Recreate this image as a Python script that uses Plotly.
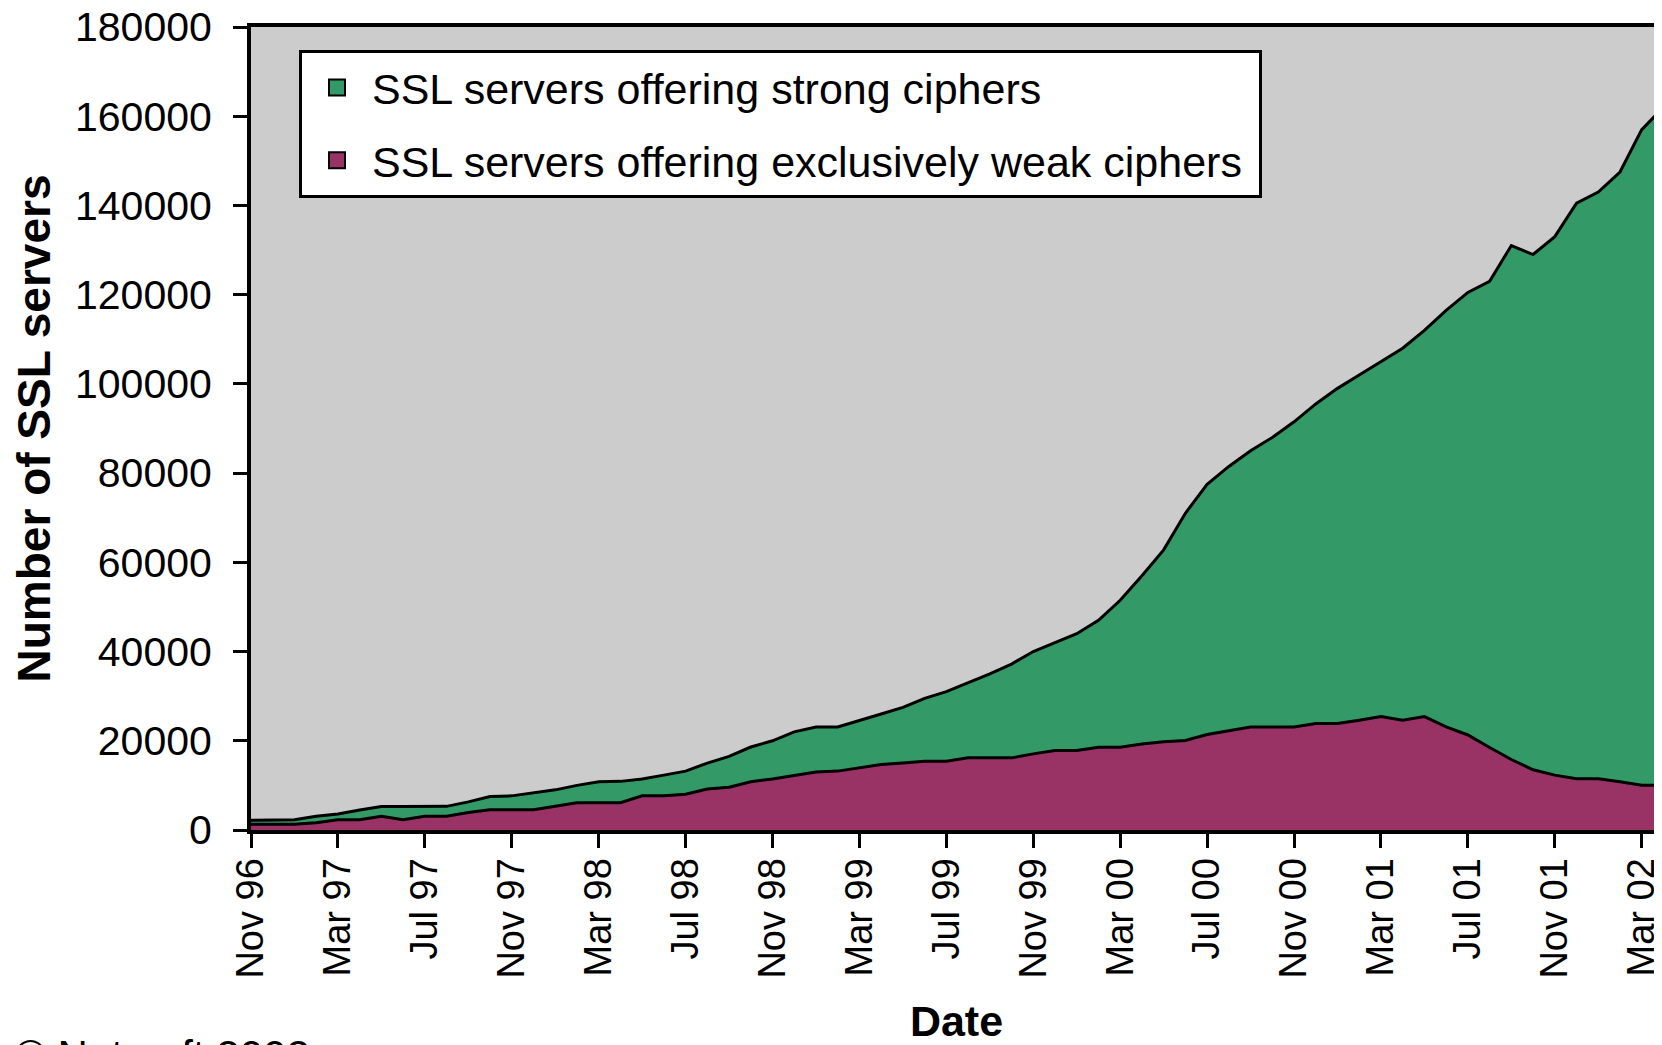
import pandas as pd
import plotly.graph_objects as go

# Monthly survey dates, Nov 96 .. Apr 02
months = list(pd.date_range("1996-11-01", periods=66, freq="MS").strftime("%b %y"))

tick_labels = ["Nov 96", "Mar 97", "Jul 97", "Nov 97", "Mar 98", "Jul 98", "Nov 98",
               "Mar 99", "Jul 99", "Nov 99", "Mar 00", "Jul 00", "Nov 00", "Mar 01",
               "Jul 01", "Nov 01", "Mar 02"]

weak = [1300, 1300, 1300, 1600, 2280, 2280, 3100, 2280, 3100, 3100,
        3920, 4520, 4520, 4520, 5330, 6100, 6100, 6100, 7650, 7650,
        8000, 9200, 9600, 10800, 11450, 12200, 13000, 13200, 13930, 14670,
        15000, 15410, 15410, 16170, 16170, 16170, 17060, 17810, 17810, 18550,
        18550, 19300, 19800, 20050, 21400, 22290, 23100, 23100, 23100, 23850,
        23850, 24600, 25420, 24600, 25420, 23100, 21300, 18500, 15800, 13500,
        12300, 11470, 11470, 10800, 10040, 10040]

strong = [900, 900, 1000, 1500, 1320, 2220, 2160, 2980, 2160, 2200,
          2380, 2980, 3130, 3880, 3670, 3900, 4700, 4800, 3800, 4650,
          5200, 5800, 6900, 7800, 8550, 9800, 10100, 9900, 10570, 11330,
          12500, 14090, 15590, 16830, 18830, 21030, 22940, 24190, 26190, 28450,
          32950, 37700, 43000, 50950, 56100, 59210, 61900, 64900, 68400, 71650,
          75150, 77400, 79580, 83400, 86580, 93400, 99200, 104500, 115200, 115500,
          120700, 129030, 131530, 136700, 146960, 151960]

GREEN = "#339966"
PURPLE = "#993366"
FONT = "Liberation Sans, Arial, sans-serif"

fig = go.Figure()
fig.add_trace(go.Scatter(x=months, y=weak, stackgroup="one", mode="lines",
                         line=dict(color="black", width=3), fillcolor=PURPLE,
                         showlegend=False, hoverinfo="skip"))
fig.add_trace(go.Scatter(x=months, y=strong, stackgroup="one", mode="lines",
                         line=dict(color="black", width=3), fillcolor=GREEN,
                         showlegend=False, hoverinfo="skip"))
# legend entries
fig.add_trace(go.Scatter(x=[None], y=[None], mode="markers", name="SSL servers offering strong ciphers",
                         legendgroup="a",
                         marker=dict(symbol="square", size=16, color=GREEN, line=dict(color="black", width=2))))
fig.add_trace(go.Scatter(x=[None], y=[None], mode="markers",
                         name="SSL servers offering exclusively weak ciphers\u00a0",
                         legendgroup="b",
                         marker=dict(symbol="square", size=16, color=PURPLE, line=dict(color="black", width=2))))

# page body has an 8px margin; the figure is sized so it ends at the window edge
W, H = 1654, 1037
L, R, T, B = 243, 0, 19, 215
pw = W - L - R
ph = H - T - B

fig.update_layout(
    width=W, height=H,
    margin=dict(l=L, r=R, t=T, b=B, pad=0, autoexpand=False),
    paper_bgcolor="white",
    plot_bgcolor="#CCCCCC",
    font=dict(family=FONT, color="black"),
    showlegend=True,
    legend=dict(
        x=(291 - L) / pw, y=(H - B - 42) / ph, xanchor="left", yanchor="top",
        bgcolor="white", bordercolor="black", borderwidth=3,
        font=dict(size=43, family=FONT, color="black"),
        traceorder="grouped", tracegroupgap=14, itemwidth=60,
    ),
    xaxis=dict(
        type="category", automargin=False,
        range=[0, pw / 21.73],
        tickvals=tick_labels, ticktext=tick_labels,
        tickangle=-90,
        tickfont=dict(size=38, family=FONT),
        ticks="outside", ticklen=14, tickwidth=3, tickcolor="black",
        showline=True, linecolor="black", linewidth=4, mirror=True,
        showgrid=False, zeroline=False,
        ticklabelstandoff=-5, ticklabeloverflow="allow",
        title=dict(text="<b>Date</b>", font=dict(size=43, family=FONT), standoff=48),
    ),
    yaxis=dict(
        automargin=False,
        range=[0, 180000], dtick=20000, tick0=0, tickformat="d",
        tickfont=dict(size=41, family=FONT),
        ticks="outside", ticklen=14, tickwidth=3, tickcolor="black",
        showline=True, linecolor="black", linewidth=4, mirror=False,
        showgrid=False, zeroline=False,
        ticklabelstandoff=13, ticklabeloverflow="allow",
        title=dict(text="<b>Number of SSL servers</b>", font=dict(size=46, family=FONT), standoff=14),
    ),
)

fig.add_annotation(text="\u00a9 Netcraft 2002", xref="paper", yref="paper",
                   x=(5 - L) / pw, y=-(1022 - (H - B)) / ph, xanchor="left", yanchor="top",
                   showarrow=False, font=dict(size=42, family=FONT, color="black"))

fig.write_html("out.html")
